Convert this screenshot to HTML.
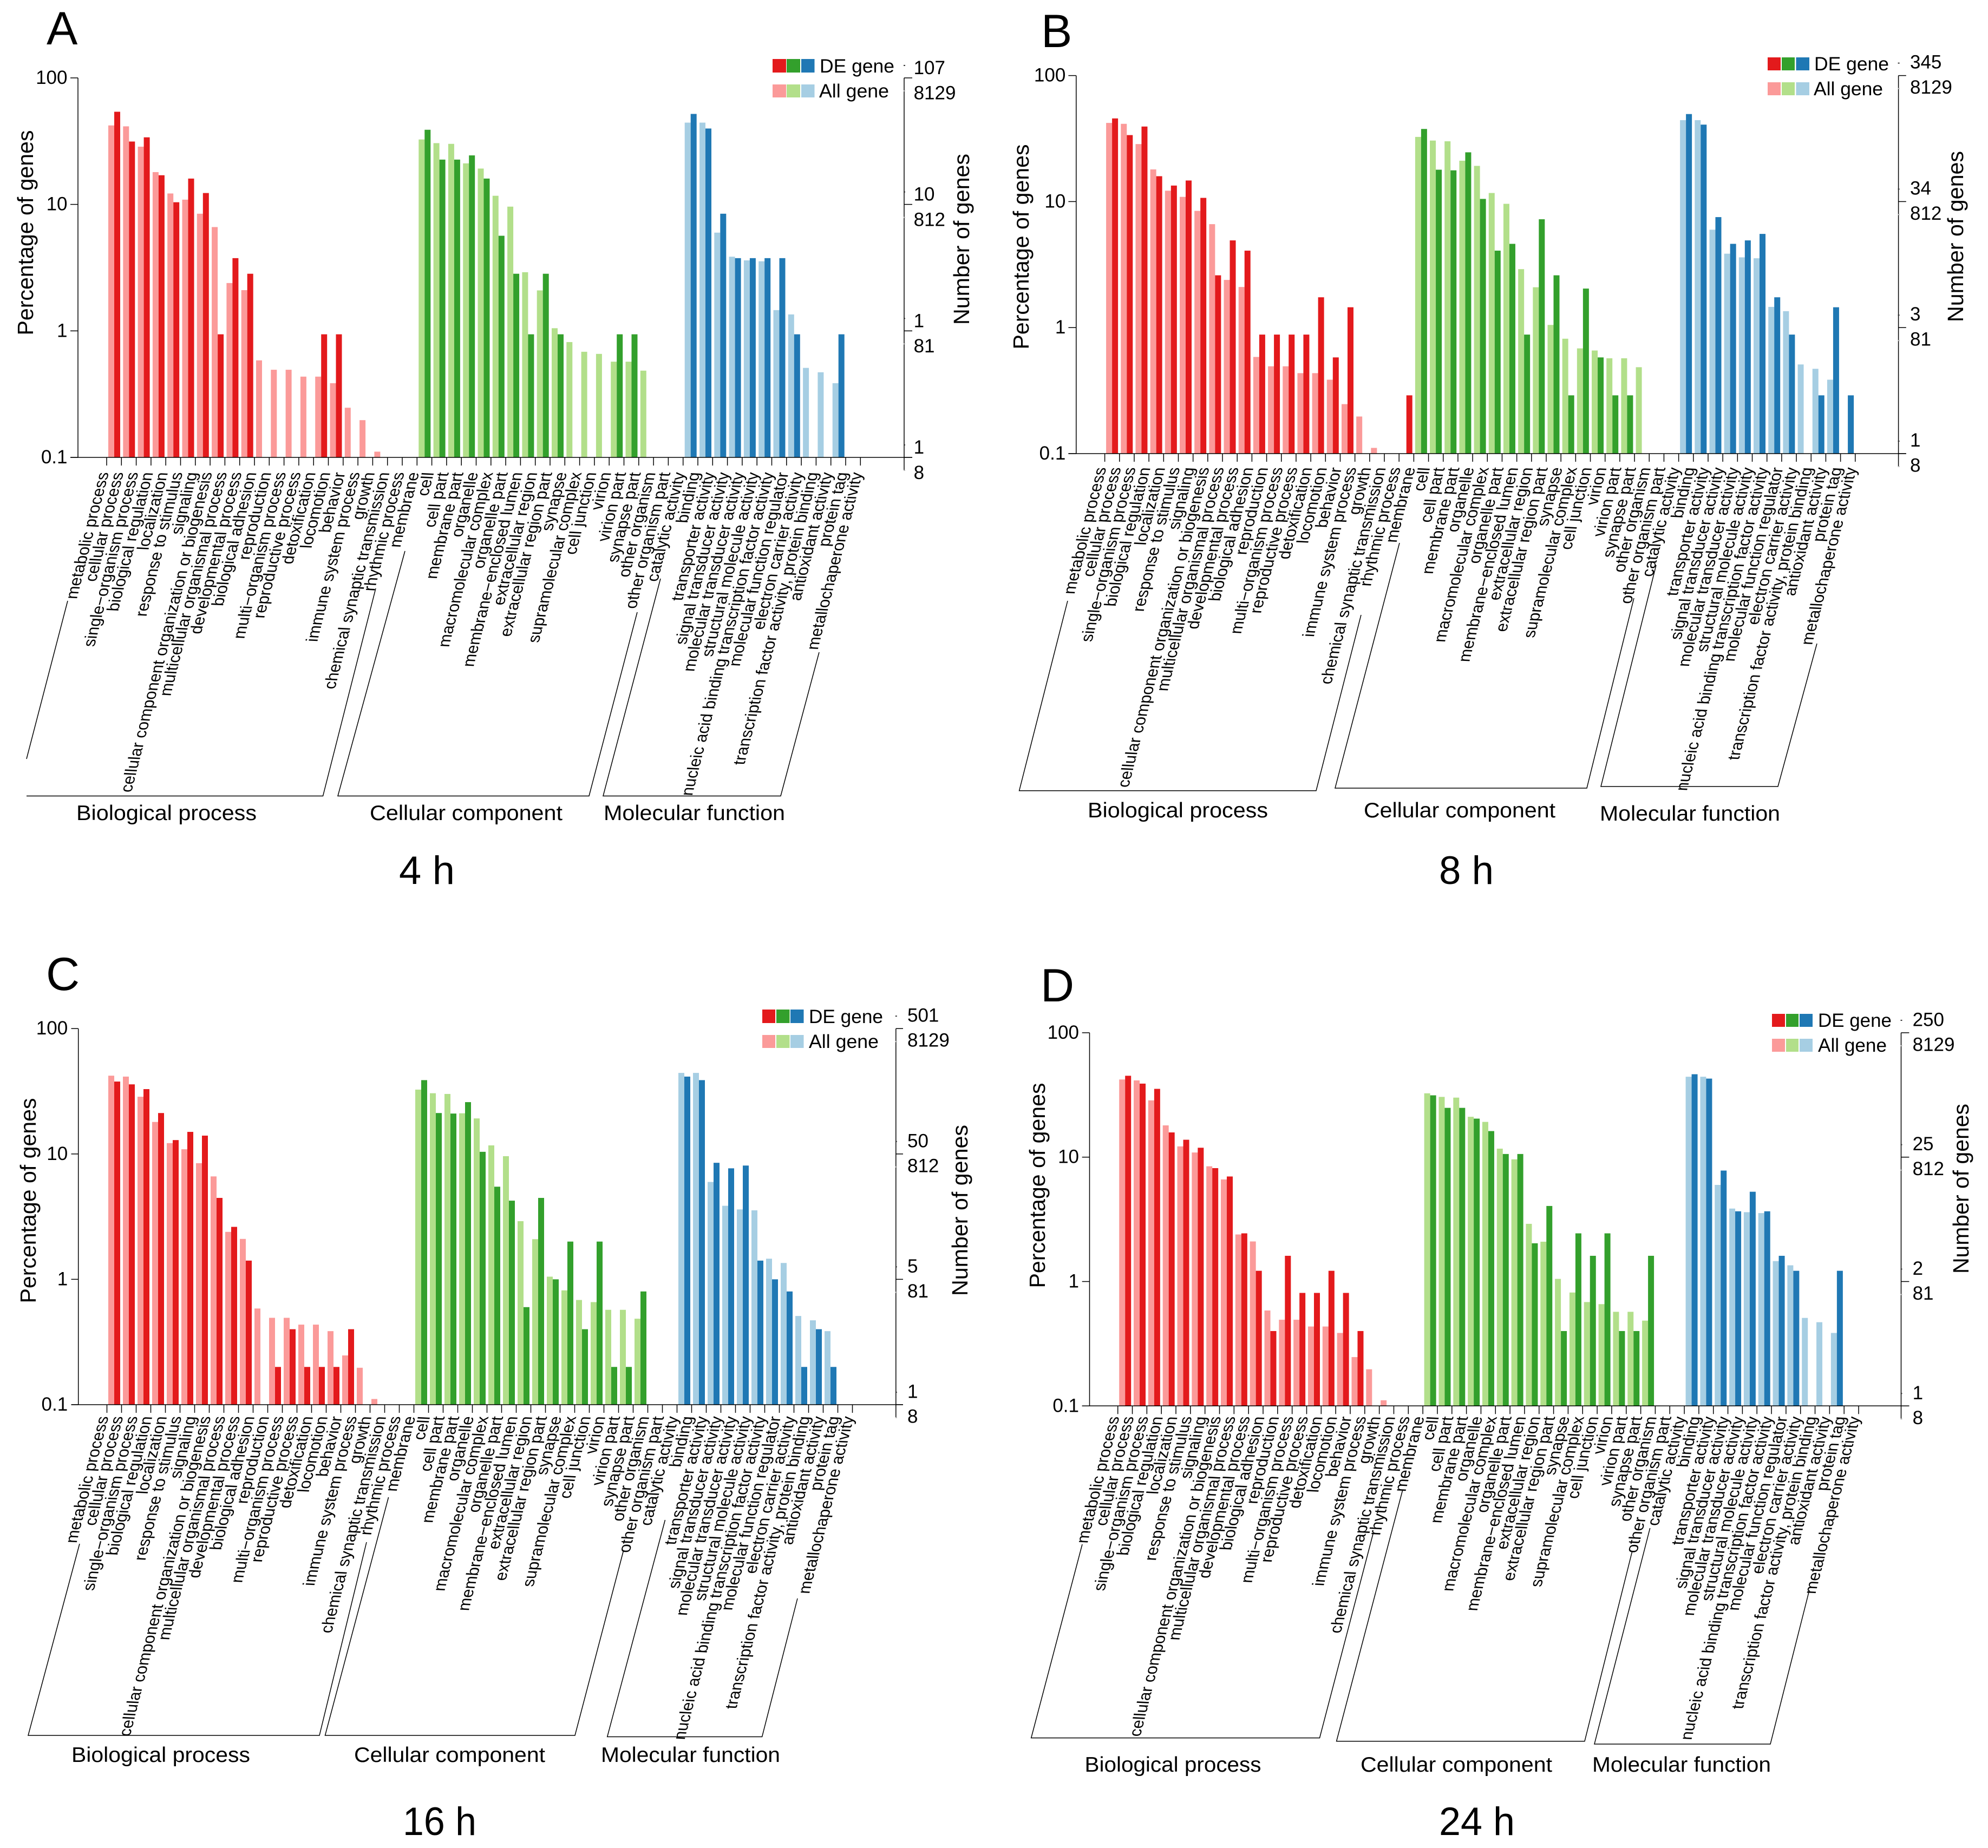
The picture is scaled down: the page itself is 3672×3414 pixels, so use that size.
<!DOCTYPE html>
<html lang="en">
<head>
<meta charset="utf-8">
<title>GO enrichment classification at 4, 8, 16 and 24 h</title>
<style>
html,body{margin:0;padding:0;background:#fff;}
svg{display:block;}
text{font-family:"Liberation Sans",Arial,sans-serif;fill:#000;}
.ln{stroke:#000;stroke-width:1.5;fill:none;}
.letter{font-size:86px;}
.time{font-size:73px;}
.axt{font-size:41px;text-anchor:middle;}
.grp{font-size:39px;}
.leg{font-size:35px;}
</style>
</head>
<body>
<svg id="chart" xmlns="http://www.w3.org/2000/svg" width="3672" height="3414" viewBox="0 0 3672 3414">
<rect x="0" y="0" width="3672" height="3414" fill="#fff"/>

<g id="panel-a">
<text class="letter" x="86" y="82">A</text>
<text class="axt" textLength="379" lengthAdjust="spacingAndGlyphs" transform="translate(61,430) rotate(-90)">Percentage of genes</text>
<text class="axt" textLength="316" lengthAdjust="spacingAndGlyphs" transform="translate(1790,442) rotate(-90)">Number of genes</text>
<rect x="1427" y="109" width="25" height="25" fill="#E31A1C"/>
<rect x="1453" y="109" width="25" height="25" fill="#33A02C"/>
<rect x="1480" y="109" width="24.500" height="25" fill="#1F78B4"/>
<rect x="1427" y="156" width="25" height="24" fill="#FB9A99"/>
<rect x="1453" y="156" width="25" height="24" fill="#B2DF8A"/>
<rect x="1480" y="156" width="24.500" height="24" fill="#A6CEE3"/>
<text class="leg" x="1514" y="134" textLength="138" lengthAdjust="spacingAndGlyphs">DE gene</text>
<text class="leg" x="1513" y="180" textLength="129" lengthAdjust="spacingAndGlyphs">All gene</text>
<path class="ln" d="M49 1402L125 1110M49 1470.500H596.500L694 1087"/>
<path class="ln" d="M748 1018L624 1470.500H1088L1177 1131"/>
<path class="ln" d="M1220 1069L1114 1470.500H1442L1513 1205"/>
<text class="grp" x="141" y="1515" textLength="333" lengthAdjust="spacingAndGlyphs">Biological process</text>
<text class="grp" x="683" y="1515" textLength="356" lengthAdjust="spacingAndGlyphs">Cellular component</text>
<text class="grp" x="1115" y="1515" textLength="335" lengthAdjust="spacingAndGlyphs">Molecular function</text>
<text class="time" x="737" y="1633" textLength="103" lengthAdjust="spacingAndGlyphs">4 h</text>
</g>

<g id="panel-b">
<text class="letter" x="1923" y="87">B</text>
<text class="axt" textLength="379" lengthAdjust="spacingAndGlyphs" transform="translate(1900,456) rotate(-90)">Percentage of genes</text>
<text class="axt" textLength="316" lengthAdjust="spacingAndGlyphs" transform="translate(3626,437) rotate(-90)">Number of genes</text>
<rect x="3265" y="106" width="24" height="24" fill="#E31A1C"/>
<rect x="3291" y="106" width="24" height="24" fill="#33A02C"/>
<rect x="3317.500" y="106" width="24.500" height="24" fill="#1F78B4"/>
<rect x="3265" y="152" width="24" height="24" fill="#FB9A99"/>
<rect x="3291" y="152" width="24" height="24" fill="#B2DF8A"/>
<rect x="3317.500" y="152" width="24.500" height="24" fill="#A6CEE3"/>
<text class="leg" x="3351" y="130" textLength="138" lengthAdjust="spacingAndGlyphs">DE gene</text>
<text class="leg" x="3350" y="176" textLength="128" lengthAdjust="spacingAndGlyphs">All gene</text>
<path class="ln" d="M1972 1110L1882.600 1460.700H2431L2514 1136"/>
<path class="ln" d="M2585 1003L2466 1456H2931L3018 1105"/>
<path class="ln" d="M3059 1044L2957 1453H3284L3356 1189"/>
<text class="grp" x="2009" y="1510" textLength="333" lengthAdjust="spacingAndGlyphs">Biological process</text>
<text class="grp" x="2519" y="1510" textLength="354" lengthAdjust="spacingAndGlyphs">Cellular component</text>
<text class="grp" x="2955" y="1516" textLength="333" lengthAdjust="spacingAndGlyphs">Molecular function</text>
<text class="time" x="2658" y="1633" textLength="101" lengthAdjust="spacingAndGlyphs">8 h</text>
</g>

<g id="panel-c">
<text class="letter" x="85" y="1829">C</text>
<text class="axt" textLength="379" lengthAdjust="spacingAndGlyphs" transform="translate(66,2218) rotate(-90)">Percentage of genes</text>
<text class="axt" textLength="316" lengthAdjust="spacingAndGlyphs" transform="translate(1787,2236) rotate(-90)">Number of genes</text>
<rect x="1408" y="1865" width="24" height="25" fill="#E31A1C"/>
<rect x="1434" y="1865" width="24.500" height="25" fill="#33A02C"/>
<rect x="1460" y="1865" width="24.500" height="25" fill="#1F78B4"/>
<rect x="1408" y="1912" width="24" height="24" fill="#FB9A99"/>
<rect x="1434" y="1912" width="24.500" height="24" fill="#B2DF8A"/>
<rect x="1460" y="1912" width="24.500" height="24" fill="#A6CEE3"/>
<text class="leg" x="1494" y="1890" textLength="137" lengthAdjust="spacingAndGlyphs">DE gene</text>
<text class="leg" x="1494" y="1936" textLength="129" lengthAdjust="spacingAndGlyphs">All gene</text>
<path class="ln" d="M147 2852L52 3206H590L677 2849"/>
<path class="ln" d="M717.600 2766L600.500 3206H1062L1151.500 2865"/>
<path class="ln" d="M1228.500 2808L1121.700 3208.500H1407.600L1473 2953"/>
<text class="grp" x="132" y="3255" textLength="330" lengthAdjust="spacingAndGlyphs">Biological process</text>
<text class="grp" x="654" y="3255" textLength="353" lengthAdjust="spacingAndGlyphs">Cellular component</text>
<text class="grp" x="1110" y="3255" textLength="331" lengthAdjust="spacingAndGlyphs">Molecular function</text>
<text class="time" x="744" y="3390" textLength="136" lengthAdjust="spacingAndGlyphs">16 h</text>
</g>

<g id="panel-d">
<text class="letter" x="1922" y="1850">D</text>
<text class="axt" textLength="379" lengthAdjust="spacingAndGlyphs" transform="translate(1930,2190) rotate(-90)">Percentage of genes</text>
<text class="axt" textLength="314" lengthAdjust="spacingAndGlyphs" transform="translate(3636,2196) rotate(-90)">Number of genes</text>
<rect x="3273" y="1873" width="24" height="24" fill="#E31A1C"/>
<rect x="3299" y="1873" width="23" height="24" fill="#33A02C"/>
<rect x="3324" y="1873" width="24" height="24" fill="#1F78B4"/>
<rect x="3273" y="1919" width="24" height="24" fill="#FB9A99"/>
<rect x="3299" y="1919" width="23" height="24" fill="#B2DF8A"/>
<rect x="3324" y="1919" width="24" height="24" fill="#A6CEE3"/>
<text class="leg" x="3358" y="1897" textLength="136" lengthAdjust="spacingAndGlyphs">DE gene</text>
<text class="leg" x="3358" y="1943" textLength="127" lengthAdjust="spacingAndGlyphs">All gene</text>
<path class="ln" d="M1999 2853L1904.700 3210.600H2437.500L2536 2834"/>
<path class="ln" d="M2590.700 2753L2468.600 3216.800H2927L3015 2865"/>
<path class="ln" d="M3047.700 2823L2945 3222H3270L3342 2937.500"/>
<text class="grp" x="2003.500" y="3273" textLength="326" lengthAdjust="spacingAndGlyphs">Biological process</text>
<text class="grp" x="2513" y="3273" textLength="354" lengthAdjust="spacingAndGlyphs">Cellular component</text>
<text class="grp" x="2941" y="3273" textLength="330" lengthAdjust="spacingAndGlyphs">Molecular function</text>
<text class="time" x="2658" y="3390" textLength="140" lengthAdjust="spacingAndGlyphs">24 h</text>
</g>
</svg>

<script>
// ---- chart data (percentage of genes; 0 means no bar) ----
const categories = [
  "metabolic process","cellular process","single\u2212organism process","biological regulation","localization",
  "response to stimulus","signaling","cellular component organization or biogenesis","multicellular organismal process",
  "developmental process","biological adhesion","reproduction","multi\u2212organism process","reproductive process",
  "detoxification","locomotion","behavior","immune system process","growth","chemical synaptic transmission","rhythmic process",
  "membrane","cell","cell part","membrane part","organelle","macromolecular complex","organelle part",
  "membrane\u2212enclosed lumen","extracellular region","extracellular region part","synapse","supramolecular complex",
  "cell junction","virion","virion part","synapse part","other organism","other organism part",
  "catalytic activity","binding","transporter activity","signal transducer activity","molecular transducer activity",
  "structural molecule activity","nucleic acid binding transcription factor activity","molecular function regulator",
  "electron carrier activity","transcription factor activity, protein binding","antioxidant activity","protein tag","metallochaperone activity"
];
const allGene = [
  42.1,41.4,28.6,18.0,12.2,10.9,8.44,6.62,2.39,2.10,0.585,0.493,0.493,0.435,0.435,0.386,0.247,0.197,0.111,0,0,
  32.6,30.5,30.1,21.1,19.2,11.7,9.6,2.91,2.09,1.05,0.816,0.684,0.658,0.571,0.571,0.485,0,0,
  44.3,44.3,5.98,3.86,3.61,3.55,1.46,1.35,0.51,0.471,0.386,0,0
];
const deGene4h = [
  54,31.4,33.9,17,10.4,16,12.3,0.94,3.76,2.83,0,0,0,0,0.94,0.94,0,0,0,0,0,
  38.9,22.6,22.6,24.4,16,5.65,2.83,0.94,2.83,0.94,0,0,0,0.94,0.94,0,0,0,
  51.9,39.8,8.44,3.76,3.76,3.76,3.76,0.94,0,0,0.94,0,0
];
const deGene8h = [
  45.7,33.7,39.4,15.9,13.4,14.7,10.7,2.6,4.92,4.08,0.88,0.88,0.88,0.88,1.74,0.58,1.45,0,0,0,0.29,
  37.7,17.9,17.7,24.6,10.5,4.08,4.62,0.88,7.24,2.6,0.29,2.04,0.58,0.29,0.29,0,0,0,
  49.5,40.8,7.53,4.62,4.92,5.54,1.74,0.88,0,0.29,1.45,0.29,0
];
const deGene16h = [
  37.8,35.9,32.9,21.2,12.9,15,14,4.46,2.62,1.41,0,0.2,0.4,0.2,0.2,0.2,0.4,0,0,0,0,
  38.8,21.2,21,25.9,10.4,5.48,4.24,0.6,4.46,1,2,0.4,2,0.2,0.2,0.8,0,0,
  41.4,38.8,8.5,7.68,8.08,1.41,1,0.8,0.2,0.4,0.2,0,0
];
const deGene24h = [
  45.1,39,35.4,15.8,13.8,11.9,8.16,6.99,2.44,1.22,0.4,1.61,0.81,0.81,1.22,0.81,0.4,0,0,0,0,
  31.4,24.9,24.9,20.4,16.2,10.6,10.6,2.03,4.05,0.4,2.44,1.61,2.44,0.4,0.4,1.61,0,0,
  46.4,42.8,7.8,3.67,5.27,3.67,1.61,1.22,0,0,1.22,0,0
];
const percentTicks = [0.1,1,10,100];
const allGeneCountTicks = ["8","81","812","8129"];
const deCountTicks4h = ["1","1","10","107"];
const deCountTicks8h = ["1","3","34","345"];
const deCountTicks16h = ["1","5","50","501"];
const deCountTicks24h = ["1","2","25","250"];

// ---- panel geometry ----
const panels = [
 {id:"panel-a",de:deGene4h,deTicks:deCountTicks4h,x0:197,dx:27.3,base:845,decade:233.7,axisX:144,leftTick:130,rightX:1670,rightTick:1685,countX:1687.6,off:3,labDy:28,labDx:4,deLab:-19.5,allLab:27.3},
 {id:"panel-b",de:deGene8h,deTicks:deCountTicks8h,x0:2040.6,dx:27.18,base:838,decade:232.8,axisX:1987.8,leftTick:1973.4,rightX:3506.6,rightTick:3520.8,countX:3528,off:2.5,labDy:26,labDx:3,deLab:-25.5,allLab:21},
 {id:"panel-c",de:deGene16h,deTicks:deCountTicks16h,x0:197.5,dx:27,base:2595,decade:231.6,axisX:144.7,leftTick:131.5,rightX:1654.8,rightTick:1668,countX:1676,off:2.5,labDy:22,labDx:3,deLab:-25,allLab:21},
 {id:"panel-d",de:deGene24h,deTicks:deCountTicks24h,x0:2064.7,dx:26.83,base:2597.3,decade:229.8,axisX:2012.5,leftTick:1998.7,rightX:3511.5,rightTick:3526.4,countX:3532.6,off:2.5,labDy:20,labDx:3,deLab:-25,allLab:21}
];
const BAR_W = 11;
const paleColors = ["#FB9A99","#B2DF8A","#A6CEE3"];
const darkColors = ["#E31A1C","#33A02C","#1F78B4"];
const NS = "http://www.w3.org/2000/svg";

function groupOf(i){ return i < 21 ? 0 : (i < 39 ? 1 : 2); }
function xScale(p,i){ return p.x0 + i * p.dx; }
function yScale(p,v){ return p.base - (Math.log10(v) + 1) * p.decade; }
function shape(parent,tag,geom){
  const el = document.createElementNS(NS,tag);
  for (const k in geom) el.setAttribute(k,geom[k]);
  parent.appendChild(el);
  return el;
}
function drawBar(parent,p,i,v,offset,color){
  const y = yScale(p,v);
  return shape(parent,"rect",{x:xScale(p,i)+offset,y:y,width:BAR_W,height:p.base-y,fill:color});
}
function hLine(parent,x1,x2,y,w,c){
  return shape(parent,"line",{x1:x1,x2:x2,y1:y,y2:y,stroke:c||"#000","stroke-width":w||1.5});
}
function vLine(parent,x,y1,y2){
  return shape(parent,"line",{x1:x,x2:x,y1:y1,y2:y2,stroke:"#000","stroke-width":1.5});
}
function label(parent,x,y,size,anchor,str){
  const t = shape(parent,"text",{x:x,y:y,"font-size":size,"text-anchor":anchor});
  t.textContent = str;
  return t;
}

panels.forEach(function(p){
  const root = document.getElementById(p.id);
  const top = yScale(p,100);

  // bars
  categories.forEach(function(name,i){
    const g = groupOf(i);
    if (allGene[i] > 0) {
      const pale = drawBar(root,p,i,allGene[i],p.off,paleColors[g]);
      
      
    }
    if (p.de[i] > 0) {
      const dark = drawBar(root,p,i,p.de[i],p.off+BAR_W,darkColors[g]);
      
      
    }
  });

  // axes
  const leftAxis = vLine(root,p.axisX,top,p.base);
  
  
  const rightAxis = vLine(root,p.rightX,top,p.base+25);
  
  
  const xAxis = hLine(root,p.leftTick,p.rightTick,p.base);
  
  

  // y ticks and labels
  percentTicks.forEach(function(v,k){
    const y = yScale(p,v);
    const lt = hLine(root,p.leftTick,p.axisX,y);
    
    
    const rt = hLine(root,p.rightX,p.rightTick,y);
    
    
    const tl = label(root,p.axisX-19.5,y+11,35,"end",String(v));
    
    

    const deDot = hLine(root,p.rightX-1,p.rightX+2,y-23,2,"#333");
    
    
    const deLab = label(root,p.countX,y+p.deLab+12.5,35,"start",p.deTicks[k]);
    
    

    const allDot = hLine(root,p.rightX-1,p.rightX+2,y+24,2,"#bbb");
    
    
    const allLab = label(root,p.countX,y+p.allLab+12.5,35,"start",allGeneCountTicks[k]);
    
    
  });

  // x ticks and slanted category labels
  categories.forEach(function(name,i){
    const x = xScale(p,i);
    const tick = vLine(root,x,p.base,p.base+15);
    
    
    const t = shape(root,"text",{"font-size":30,"text-anchor":"end",
      transform:"matrix(0.245,-0.969,1.02,0.05,"+(x+p.labDx)+","+(p.base+p.labDy)+")"});
    t.textContent = name;
    
    
  });
});
</script>
</body>
</html>
